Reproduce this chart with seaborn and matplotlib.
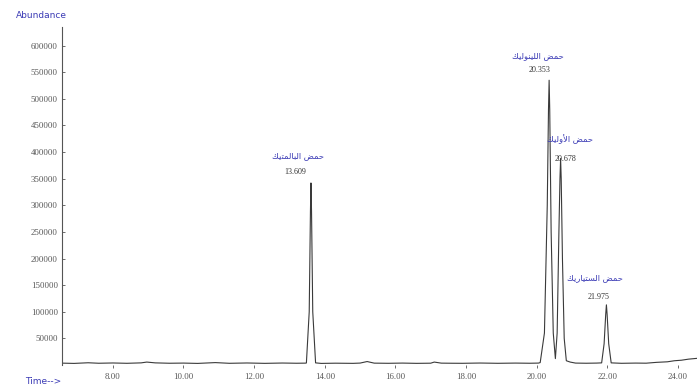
import matplotlib
matplotlib.use("Agg")
import matplotlib.pyplot as plt
import seaborn as sns
import pandas as pd

# Chromatogram trace: retention time (min) and detector abundance
trace_time = [
    6.56, 6.90, 7.30, 7.60, 8.00, 8.40, 8.80, 8.96, 9.20, 9.60, 10.00, 10.40,
    10.90, 11.30, 11.80, 12.30, 12.80, 13.20, 13.45,
    13.48, 13.56, 13.595, 13.609, 13.625, 13.66, 13.74,
    13.90, 14.30, 14.80, 15.00, 15.20, 15.40, 15.80, 16.20, 16.60, 17.00,
    17.10, 17.30, 17.60, 17.90, 18.40, 18.90, 19.40, 19.80, 20.05,
    20.10, 20.22, 20.30, 20.335, 20.353, 20.37, 20.41, 20.47, 20.53,
    20.58, 20.63, 20.66, 20.678, 20.695, 20.73, 20.78, 20.84,
    20.95, 21.10, 21.40, 21.70,
    21.84, 21.91, 21.955, 21.975, 21.995, 22.04, 22.11,
    22.40, 22.80, 23.10, 23.40, 23.70, 23.90, 24.10, 24.30, 24.54,
]
trace_abundance = [
    3500, 3000, 4200, 3300, 3800, 3200, 4000, 5500, 4000, 3300, 3600, 3000,
    4500, 3200, 3800, 3100, 3700, 3300, 3500,
    3800, 100000, 290000, 342000, 290000, 100000, 4000,
    3000, 3400, 3100, 3600, 6500, 3500, 3200, 3600, 3100, 3400,
    5500, 3500, 3300, 3200, 3700, 3200, 3600, 3300, 3600,
    4500, 60000, 300000, 480000, 535000, 480000, 250000, 60000, 12000,
    60000, 250000, 350000, 388000, 350000, 200000, 50000, 8000,
    5500, 3600, 3300, 3600,
    4000, 40000, 95000, 113000, 95000, 40000, 4000,
    3200, 3600, 3400, 5000, 6000, 8000, 9000, 11000, 12500,
]

# Identified peaks
peak_names = ["حمض البالمتيك", "حمض اللينوليك", "حمض الأوليك", "حمض الستياريك"]
peak_times = [13.609, 20.353, 20.678, 21.975]
peak_heights = [342000, 535000, 388000, 113000]

# Label offsets (pixels) for the name and the retention time above each peak
name_offsets = [(-13, 27), (-11, 25), (9, 19), (-11, 27)]
time_offsets = [(-16, 11), (-10, 10), (5, -1), (-8, 8)]

x_ticks = [8, 10, 12, 14, 16, 18, 20, 22, 24]
y_ticks = [50000, 100000, 150000, 200000, 250000, 300000,
           350000, 400000, 450000, 500000, 550000, 600000]


def shape_arabic(text):
    """Convert logical Arabic text into contextual glyph forms in visual order."""
    # isolated, final, initial, medial
    forms = {
        "ا": ("\uFE8D", "\uFE8E", None, None),
        "أ": ("\uFE83", "\uFE84", None, None),
        "ب": ("\uFE8F", "\uFE90", "\uFE91", "\uFE92"),
        "ت": ("\uFE95", "\uFE96", "\uFE97", "\uFE98"),
        "ح": ("\uFEA1", "\uFEA2", "\uFEA3", "\uFEA4"),
        "ر": ("\uFEAD", "\uFEAE", None, None),
        "س": ("\uFEB1", "\uFEB2", "\uFEB3", "\uFEB4"),
        "ض": ("\uFEBD", "\uFEBE", "\uFEBF", "\uFEC0"),
        "ك": ("\uFED9", "\uFEDA", "\uFEDB", "\uFEDC"),
        "ل": ("\uFEDD", "\uFEDE", "\uFEDF", "\uFEE0"),
        "م": ("\uFEE1", "\uFEE2", "\uFEE3", "\uFEE4"),
        "ن": ("\uFEE5", "\uFEE6", "\uFEE7", "\uFEE8"),
        "و": ("\uFEED", "\uFEEE", None, None),
        "ي": ("\uFEF1", "\uFEF2", "\uFEF3", "\uFEF4"),
    }
    lam_alef = {"ا": ("\uFEFB", "\uFEFC"), "أ": ("\uFEF7", "\uFEF8")}

    chars = list(text)
    out = []
    i = 0
    while i < len(chars):
        c = chars[i]
        if c not in forms:
            out.append(c)
            i += 1
            continue
        prev = chars[i - 1] if i > 0 else None
        joins_prev = prev in forms and forms[prev][2] is not None
        nxt = chars[i + 1] if i + 1 < len(chars) else None
        if c == "ل" and nxt in lam_alef:
            out.append(lam_alef[nxt][1] if joins_prev else lam_alef[nxt][0])
            i += 2
            continue
        joins_next = forms[c][2] is not None and nxt in forms
        iso, fin, ini, med = forms[c]
        if joins_prev and joins_next:
            out.append(med)
        elif joins_prev:
            out.append(fin)
        elif joins_next:
            out.append(ini)
        else:
            out.append(iso)
        i += 1
    return "".join(reversed(out))


sns.set_style("white")
plt.rcParams["font.family"] = ["Liberation Serif", "DejaVu Sans"]

label_blue = "#3b3bb5"

df = pd.DataFrame({"time": trace_time, "abundance": trace_abundance})

fig = plt.figure(figsize=(6.97, 3.91), dpi=100)
ax = fig.add_axes([62 / 697, 26 / 391, 1 - 62 / 697, (365 - 27) / 391])

sns.lineplot(data=df, x="time", y="abundance", ax=ax, color="#3a3a3a",
             linewidth=0.8, sort=False, estimator=None)

ax.set_xlim(6.56, 24.54)
ax.set_ylim(0, 635000)
ax.set_xticks(x_ticks)
ax.set_xticklabels([f"{t:.2f}" for t in x_ticks])
ax.set_yticks(y_ticks)
ax.set_yticklabels([str(v) for v in y_ticks])
ax.set_xlabel("")
ax.set_ylabel("")

for side in ("top", "right", "bottom"):
    ax.spines[side].set_visible(False)
ax.spines["left"].set_color("#555555")
ax.spines["left"].set_linewidth(0.8)
ax.tick_params(axis="y", direction="in", length=2.5, width=0.6,
               colors="#555555", labelsize=6.3, labelcolor="#555555", pad=3)
ax.tick_params(axis="x", direction="out", length=2, width=0.6,
               colors="#555555", labelsize=6.3, labelcolor="#555555", pad=4)
ax.tick_params(left=True, bottom=True)

for name, t, h, (nx, ny), (tx, ty) in zip(peak_names, peak_times, peak_heights,
                                          name_offsets, time_offsets):
    ax.annotate(f"{t:.3f}", xy=(t, h), xytext=(tx, ty), textcoords="offset pixels",
                ha="center", va="center", fontsize=5.8, color="#333333")
    ax.annotate(shape_arabic(name), xy=(t, h), xytext=(nx, ny),
                textcoords="offset pixels", ha="center", va="center",
                fontsize=6.0, color=label_blue, family=["DejaVu Sans"])

fig.text(41 / 697, 1 - 16 / 391, "Abundance", ha="center", va="center",
         fontsize=6.5, color=label_blue, family=["DejaVu Sans"])
fig.text(43 / 697, 1 - 381 / 391, "Time-->", ha="center", va="center",
         fontsize=6.5, color=label_blue, family=["DejaVu Sans"])

fig.savefig("out.png", dpi=100)
